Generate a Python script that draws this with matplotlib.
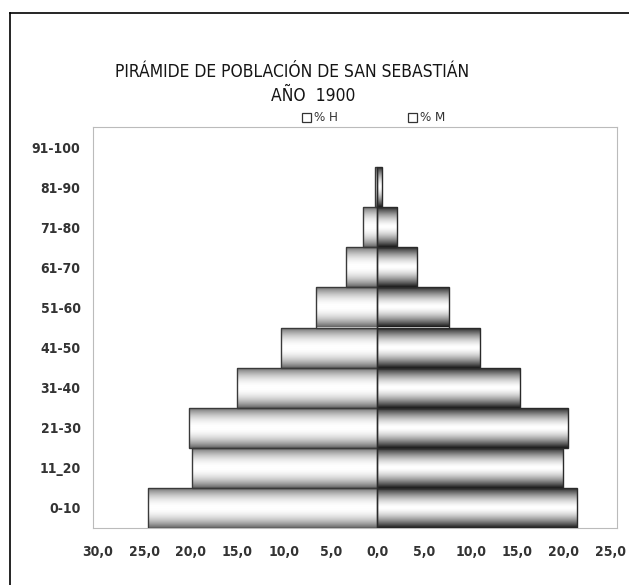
import numpy as np
import matplotlib.pyplot as plt
from matplotlib.lines import Line2D
from matplotlib.patches import Rectangle

grupos = ["0-10", "11_20", "21-30", "31-40", "41-50", "51-60", "61-70", "71-80", "81-90", "91-100"]
hombres = [24.6, 19.9, 20.2, 15.1, 10.3, 6.6, 3.4, 1.5, 0.3, 0.0]
mujeres = [21.4, 19.9, 20.4, 15.3, 11.0, 7.7, 4.2, 2.15, 0.5, 0.0]
xticks = [-30, -25, -20, -15, -10, -5, 0, 5, 10, 15, 20, 25]

fuente = ["DejaVu Sans"]

fig = plt.figure(figsize=(6.29, 5.85), dpi=100)
ax = fig.add_axes([93/629, 1-528/585, (617-93)/629, (528-127)/585])

y = np.arange(len(grupos))
bh = ax.barh(y, [-v for v in hombres], height=1.0, facecolor="none", edgecolor="#3a3a3a", lw=1.0, zorder=3)
bm = ax.barh(y, mujeres, height=1.0, facecolor="none", edgecolor="#2a2a2a", lw=1.0, zorder=3)

# sombreado tipo cilindro
t = np.linspace(-1, 1, 64)
grad_h = (1 - 0.6*np.abs(t)**2.0).reshape(-1, 1)
grad_m = (1 - 0.9*np.abs(t)**1.6).reshape(-1, 1)
for barras, grad in [(bh, grad_h), (bm, grad_m)]:
    for p in barras.patches:
        if p.get_width() == 0:
            p.set_linewidth(0)
            continue
        x0 = min(p.get_x(), p.get_x()+p.get_width())
        x1 = max(p.get_x(), p.get_x()+p.get_width())
        y0 = p.get_y()
        y1 = y0 + p.get_height()
        im = ax.imshow(grad, cmap="gray", vmin=0, vmax=1, aspect="auto",
                       extent=[x0, x1, y0, y1], zorder=2, interpolation="bicubic")
        im.set_clip_path(p)

ax.set_xlim(-30.5, 25.7)
ax.set_ylim(-0.5, 9.5)
ax.set_xticks(xticks)
ax.set_xticklabels([f"{abs(v):.1f}".replace(".", ",") for v in xticks],
                   family=fuente, fontstretch="condensed", fontsize=10, fontweight="semibold", color="#333333")
ax.set_yticks(y)
ax.set_yticklabels(grupos, family=fuente, fontstretch="condensed", fontsize=10, fontweight="semibold", color="#333333")
ax.tick_params(length=0)
ax.tick_params(axis="x", pad=12)
ax.tick_params(axis="y", pad=9)
for s in ax.spines.values():
    s.set_color("#bbbbbb")
    s.set_linewidth(0.8)

fig.text(292/629, 1-72/585, "PIRÁMIDE DE POBLACIÓN DE SAN SEBASTIÁN", family=fuente, fontstretch="condensed",
         fontsize=12.5, color="#151515", ha="center", va="center")
fig.text(313/629, 1-96/585, "AÑO  1900", family=fuente, fontstretch="condensed",
         fontsize=12.5, color="#151515", ha="center", va="center")

# leyenda
for xb, lab in [(302, "% H"), (408, "% M")]:
    fig.patches.append(Rectangle((xb/629, 1-122/585), 9/629, 9/585, transform=fig.transFigure,
                                 facecolor="white", edgecolor="#333333", lw=0.9))
    fig.text((xb+12)/629, 1-117.5/585, lab, family=fuente, fontstretch="condensed", fontsize=9.5, color="#333333",
             ha="left", va="center")

# marco exterior
fig.lines.append(Line2D([10/629, 1], [1-13/585, 1-13/585], transform=fig.transFigure, color="black", lw=1.2))
fig.lines.append(Line2D([10/629, 10/629], [0, 1-13/585], transform=fig.transFigure, color="black", lw=1.2))

fig.savefig("out.png", dpi=100)
